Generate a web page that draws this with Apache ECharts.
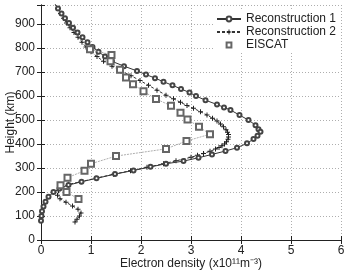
<!DOCTYPE html>
<html>
<head>
<meta charset="utf-8">
<script src="https://cdn.jsdelivr.net/npm/echarts@6/dist/echarts.min.js"></script>
<style>
  html, body { margin: 0; padding: 0; background: #fff; }
  #main { width: 348px; height: 270px; }
</style>
</head>
<body>
<div id="main"></div>
<script>
// [density (x10^11 m^-3), height (km)]
var recon1 = [
  [0.28, 985], [0.34, 965], [0.41, 945], [0.48, 925], [0.56, 905], [0.64, 885],
  [0.73, 865], [0.83, 845], [0.93, 825], [1.03, 805], [1.15, 785], [1.28, 765],
  [1.42, 745], [1.66, 725], [1.92, 705], [2.1, 690], [2.28, 675], [2.45, 660],
  [2.63, 645], [2.8, 630], [2.97, 615], [3.1, 600], [3.29, 583], [3.52, 565],
  [3.66, 553], [3.79, 542], [3.97, 521], [4.15, 500], [4.29, 479], [4.35, 462],
  [4.39, 451], [4.33, 435], [4.25, 421], [4.12, 403], [3.92, 385], [3.69, 371],
  [3.42, 357], [3.15, 343], [2.85, 329], [2.5, 318], [2.19, 305], [1.85, 290],
  [1.48, 275], [1.11, 257], [0.81, 243], [0.55, 229], [0.37, 215], [0.25, 200],
  [0.15, 180], [0.09, 160], [0.05, 140], [0.02, 120], [0.01, 100], [0.0, 80]
];
var recon2 = [
  [0.28, 985], [0.33, 965], [0.39, 945], [0.45, 925], [0.51, 905], [0.58, 885],
  [0.66, 865], [0.74, 845], [0.82, 825], [0.9, 805], [1.0, 785], [1.12, 765],
  [1.25, 745], [1.42, 725], [1.6, 705], [1.8, 685], [1.98, 665], [2.15, 645],
  [2.32, 625], [2.5, 604], [2.65, 589], [2.79, 574], [2.92, 561], [3.05, 549],
  [3.19, 535], [3.32, 521], [3.43, 508], [3.52, 496], [3.59, 484], [3.65, 472],
  [3.7, 460], [3.73, 449], [3.75, 440], [3.75, 430], [3.74, 420], [3.71, 410],
  [3.67, 400], [3.62, 393], [3.56, 386], [3.49, 379], [3.38, 370], [3.25, 361],
  [3.13, 353], [3.0, 345], [2.7, 330], [2.45, 318], [2.12, 303], [1.79, 289],
  [1.45, 274], [1.1, 258], [0.8, 243], [0.55, 232], [0.42, 222], [0.35, 205],
  [0.33, 187], [0.38, 172], [0.5, 157], [0.63, 142], [0.74, 128], [0.8, 113],
  [0.77, 100], [0.72, 87], [0.68, 75]
];
var eiscat = [
  [0.98, 795], [1.41, 772], [1.39, 745], [1.58, 710], [1.7, 678], [1.84, 650],
  [2.05, 620], [2.3, 588], [2.6, 560], [2.79, 531], [2.93, 503], [3.16, 472],
  [3.38, 441], [2.91, 413], [2.5, 380], [1.5, 350], [1.0, 318], [0.87, 289],
  [0.53, 260], [0.39, 228], [0.51, 200], [0.75, 171]
];
var seriesNames = ['Reconstruction 1', 'Reconstruction 2', 'EISCAT'];

var plusPath = 'path://M4,0H6V4H10V6H6V10H4V6H0V4H4Z';
var font = 'Liberation Sans, Arial, sans-serif';

var myChart = echarts.init(document.getElementById('main'));

myChart.setOption({
  backgroundColor: '#fff',
  animation: false,
  grid: { left: 41, right: 7, top: 5, bottom: 30, outerBoundsMode: 'none', containLabel: false },
  legend: {
    orient: 'vertical',
    left: 214,
    top: 11,
    itemWidth: 24,
    itemHeight: 6,
    itemGap: 1,
    padding: [2, 4, 2, 2],
    backgroundColor: '#fff',
    textStyle: { fontSize: 12, color: '#222', fontFamily: font },
    data: [
      { name: seriesNames[0] },
      { name: seriesNames[1] },
      { name: seriesNames[2], lineStyle: { opacity: 0 } }
    ]
  },
  xAxis: [{
    type: 'value', min: 0, max: 6, interval: 1,
    name: 'Electron density (x10¹¹m⁻³)',
    nameLocation: 'middle', nameGap: 18, nameMoveOverlap: false,
    nameTextStyle: { fontSize: 12, color: '#222', fontFamily: font },
    axisLine: { lineStyle: { color: '#222', width: 1 } },
    axisTick: { inside: true, length: 4, lineStyle: { color: '#222' } },
    axisLabel: { fontSize: 12, color: '#222', fontFamily: font, margin: 5 },
    splitLine: { show: true, lineStyle: { color: '#999', type: [1, 2], width: 0.8 } }
  }, {
    type: 'value', min: 0, max: 6, interval: 1, position: 'top',
    axisLine: { show: true, lineStyle: { color: '#222', width: 1 } },
    axisTick: { show: true, inside: true, length: 4, lineStyle: { color: '#222' } },
    axisLabel: { show: false },
    splitLine: { show: false }
  }],
  yAxis: [{
    type: 'value', min: 0, max: 980, interval: 100,
    name: 'Height (km)',
    nameLocation: 'middle', nameGap: 24, nameMoveOverlap: false,
    nameTextStyle: { fontSize: 12, color: '#222', fontFamily: font },
    axisLine: { show: true, lineStyle: { color: '#222', width: 1 } },
    axisTick: { show: true, inside: true, length: 4, lineStyle: { color: '#222' } },
    axisLabel: {
      fontSize: 12, color: '#222', fontFamily: font, margin: 6,
      formatter: function (v) { return v % 100 === 0 ? v : ''; }
    },
    splitLine: { show: true, lineStyle: { color: '#999', type: [1, 2], width: 0.8 } }
  }, {
    type: 'value', min: 0, max: 980, interval: 100, position: 'right',
    axisLine: { show: true, lineStyle: { color: '#222', width: 1 } },
    axisTick: { show: true, inside: true, length: 4, lineStyle: { color: '#222' } },
    axisLabel: { show: false },
    splitLine: { show: false }
  }],
  series: [{
    name: seriesNames[0],
    type: 'line',
    data: recon1,
    symbol: 'emptyCircle',
    symbolSize: 4,
    lineStyle: { color: '#333', width: 1 },
    itemStyle: { color: '#444', borderWidth: 1 },
    z: 3
  }, {
    name: seriesNames[1],
    type: 'line',
    data: recon2,
    symbol: plusPath,
    symbolSize: 5,
    lineStyle: { color: '#333', width: 1, type: [3, 2] },
    itemStyle: { color: '#222' },
    z: 2
  }, {
    name: seriesNames[2],
    type: 'line',
    data: eiscat,
    symbol: 'emptyRect',
    symbolSize: 6,
    lineStyle: { color: '#999', width: 0.8, type: [2, 1] },
    itemStyle: { color: '#666', borderWidth: 0.8 },
    z: 4
  }]
});
</script>
</body>
</html>
